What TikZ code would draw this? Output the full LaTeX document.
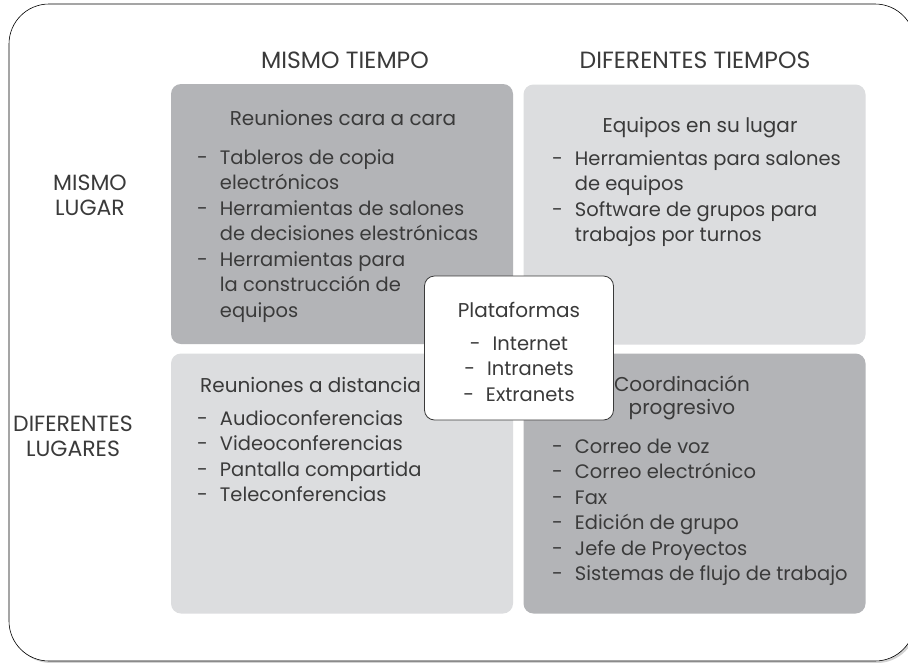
\documentclass[tikz,border=0pt]{standalone}
\usepackage{fontspec}
\setmainfont{Poppins}
\usetikzlibrary{shadows}

\definecolor{boxDarkGray}{HTML}{B3B4B7}
\definecolor{boxLightGray}{HTML}{DCDDDF}
\definecolor{inkGray}{HTML}{3A3A3A}

\newcommand{\itemFont}{\fontsize{19.5}{25.5}\selectfont}
\newcommand{\dashList}[1]{\begin{tabular}[t]{@{}l@{\hspace{12pt}}l@{}}#1\end{tabular}}

\begin{document}
\begin{tikzpicture}
[x=1pt,y=-1pt,
  quadDecorate/.style={shape=rectangle,rounded corners=10pt,minimum width=342pt,minimum height=260pt,inner sep=0pt},%
  headDecorate/.style={text=inkGray,font=\fontsize{23.5}{25}\selectfont,align=center,inner sep=0pt},%
  titleDecorate/.style={text=inkGray,font=\fontsize{20}{23}\selectfont,align=center,inner sep=0pt},%
  listDecorate/.style={text=inkGray,font=\itemFont,inner sep=0pt,anchor=base west}]
\useasboundingbox (0,0) rectangle (908,662);
\clip (0,0) rectangle (908,662);
%% frame
\draw[rounded corners=40pt,line width=0.6pt,fill=white,
  drop shadow={opacity=0.35,shadow xshift=2pt,shadow yshift=-2pt}] (9,4) rectangle (915,661);
%% quadrants
\foreach \nodename/\x/\y/\boxcolor in {
  tl/342/214/boxDarkGray, tr/694.5/214.5/boxLightGray,
  bl/342/483.5/boxLightGray, br/694.5/483.5/boxDarkGray}
{
  \node (\nodename) at (\x,\y) [quadDecorate,fill=\boxcolor] {};
}
%% headers
\node (sameTime) at (345,60) [headDecorate] {MISMO TIEMPO};
\node (diffTime) at (695,60) [headDecorate] {DIFERENTES TIEMPOS};
\node (samePlace) at (90,195) [headDecorate,font=\fontsize{22}{25}\selectfont] {MISMO\\LUGAR};
\node (diffPlace) at (73,436) [headDecorate,font=\fontsize{22}{25}\selectfont] {DIFERENTES\\LUGARES};
%% texts
\node (tlTitle) at (343,118) [titleDecorate] {Reuniones cara a cara};
\node (tlList) at (197,164) [listDecorate] {\dashList{
  - & Tableros de copia\\ & electrónicos\\
  - & Herramientas de salones\\ & de decisiones elestrónicas\\
  - & Herramientas para\\ & la construcción de\\ & equipos}};
\node (trTitle) at (700,128) [titleDecorate] {Equipos en su lugar};
\node (trList) at (552,165) [listDecorate] {\dashList{
  - & Herramientas para salones\\ & de equipos\\
  - & Software de grupos para\\ & trabajos por turnos}};
\node (blTitle) at (200,385) [titleDecorate,anchor=west] {Reuniones a distancia};
\node (blList) at (197,425) [listDecorate] {\dashList{
  - & Audioconferencias\\ - & Videoconferencias\\
  - & Pantalla compartida\\ - & Teleconferencias}};
\node (brTitle) at (682,398) [titleDecorate] {Coordinación\\progresivo};
\node (brList) at (552,453) [listDecorate] {\dashList{
  - & Correo de voz\\ - & Correo electrónico\\ - & Fax\\
  - & Edición de grupo\\ - & Jefe de Proyectos\\
  - & Sistemas de flujo de trabajo}};
%% platforms
\node (plat) at (519,348) [shape=rectangle,rounded corners=10pt,draw=inkGray,fill=white,
  line width=0.8pt,minimum width=189pt,minimum height=144pt] {};
\node (platTitle) at (519,310) [titleDecorate] {Plataformas};
\node (platList) at (519,369) [titleDecorate,font=\itemFont] {%
  -\hspace{12pt}Internet\\ -\hspace{12pt}Intranets\\ -\hspace{12pt}Extranets};
\end{tikzpicture}
\end{document}
